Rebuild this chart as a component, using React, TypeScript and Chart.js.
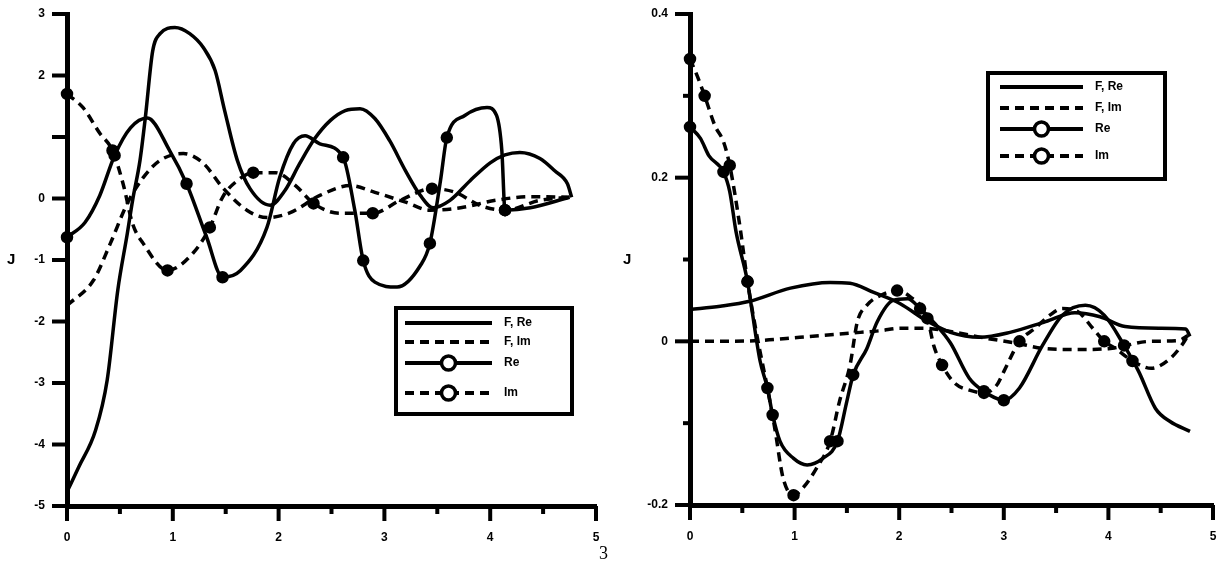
import React, { useEffect, useRef } from "react";
import { Chart, registerables } from "chart.js";

Chart.register(...registerables);

// legend texts (same four series in both panels)
const seriesLabels = ["F, Re", "F, Im", "Re", "Im"];

// ---- left panel ----
const leftXTicks = [0, 1, 2, 3, 4, 5];
const leftYTicks = [3, 2, 1, 0, -1, -2, -3, -4, -5];

const leftSolidX = [0, 0.11, 0.27, 0.38, 0.48, 0.57, 0.62, 0.69, 0.74, 0.81, 0.88, 1.02, 1.16, 1.29, 1.4, 1.49, 1.61, 1.73, 1.92, 2.06, 2.2, 2.34, 2.49, 2.63, 2.77, 2.91, 3.05, 3.2, 3.34, 3.46, 3.62, 3.81, 4.0, 4.14, 4.28, 4.47, 4.61, 4.73, 4.77];
const leftSolidY = [-4.77, -4.37, -3.77, -2.95, -1.49, -0.57, -0.03, 0.62, 1.31, 2.4, 2.68, 2.78, 2.68, 2.45, 2.08, 1.43, 0.62, 0.16, -0.11, 0.13, 0.57, 0.97, 1.27, 1.43, 1.46, 1.3, 0.94, 0.45, 0.05, -0.15, -0.03, 0.29, 0.58, 0.71, 0.75, 0.65, 0.45, 0.24, 0.02];

const leftDashX = [0, 0.25, 0.41, 0.57, 0.72, 0.88, 1.1, 1.29, 1.47, 1.7, 1.89, 2.11, 2.39, 2.68, 2.91, 3.2, 3.43, 3.72, 4.05, 4.38, 4.75];
const leftDashY = [-1.74, -1.33, -0.73, -0.08, 0.34, 0.62, 0.73, 0.57, 0.18, -0.19, -0.31, -0.23, 0.05, 0.21, 0.1, -0.06, -0.19, -0.15, -0.03, 0.03, 0.02];

const leftSolidMarkX = [0, 0.17, 0.31, 0.45, 0.6, 0.76, 0.97, 1.13, 1.32, 1.47, 1.64, 1.89, 2.01, 2.14, 2.25, 2.39, 2.61, 2.72, 2.8, 2.91, 3.12, 3.34, 3.43, 3.53, 3.59, 3.76, 3.97, 4.06, 4.11, 4.14, 4.38, 4.75];
const leftSolidMarkY = [-0.63, -0.39, 0.05, 0.7, 1.15, 1.31, 0.78, 0.24, -0.63, -1.28, -1.17, -0.47, 0.34, 0.89, 1.02, 0.89, 0.67, -0.19, -1.01, -1.36, -1.44, -1.09, -0.73, 0.29, 0.99, 1.35, 1.48, 1.35, 0.78, -0.19, -0.15, 0.02];
const leftSolidMarkAt = [0, 3, 7, 9, 16, 18, 22, 24, 29];

const leftDashMarkX = [0, 0.15, 0.31, 0.43, 0.53, 0.62, 0.72, 0.95, 1.19, 1.35, 1.47, 1.61, 1.76, 1.97, 2.16, 2.33, 2.58, 2.89, 3.15, 3.45, 3.67, 3.9, 4.14, 4.47, 4.75];
const leftDashMarkY = [1.7, 1.48, 1.06, 0.78, 0.24, -0.41, -0.73, -1.17, -0.89, -0.47, 0.02, 0.29, 0.42, 0.42, 0.21, -0.08, -0.24, -0.24, -0.03, 0.16, 0.1, -0.11, -0.19, -0.03, 0.02];
const leftDashMarkAt = [0, 3, 7, 9, 12, 15, 17, 19, 22];

// ---- right panel ----
const rightXTicks = [0, 1, 2, 3, 4, 5];
const rightYTicks = [0.4, 0.2, 0, -0.2];

const rightSolidX = [0, 0.29, 0.57, 0.96, 1.34, 1.53, 1.75, 2.01, 2.25, 2.49, 2.77, 3.06, 3.4, 3.68, 3.92, 4.16, 4.49, 4.74, 4.78];
const rightSolidY = [0.039, 0.043, 0.049, 0.065, 0.072, 0.071, 0.06, 0.046, 0.026, 0.011, 0.005, 0.011, 0.024, 0.035, 0.03, 0.018, 0.016, 0.015, 0.006];

const rightDashX = [0, 0.29, 0.67, 1.05, 1.53, 1.82, 2.01, 2.25, 2.49, 2.82, 3.11, 3.4, 3.68, 4.0, 4.4, 4.67, 4.76];
const rightDashY = [0, 0, 0.001, 0.005, 0.01, 0.013, 0.016, 0.016, 0.012, 0.004, -0.002, -0.009, -0.01, -0.009, 0, 0.001, 0.007];

const rightSolidMarkX = [0, 0.1, 0.18, 0.32, 0.38, 0.44, 0.55, 0.59, 0.67, 0.74, 0.79, 0.86, 0.99, 1.12, 1.27, 1.41, 1.5, 1.56, 1.69, 1.79, 1.94, 2.08, 2.2, 2.34, 2.49, 2.67, 2.81, 3.0, 3.15, 3.37, 3.56, 3.78, 3.96, 4.15, 4.29, 4.45, 4.59, 4.78];
const rightSolidMarkY = [0.262, 0.248, 0.227, 0.207, 0.183, 0.134, 0.073, 0.04, -0.024, -0.057, -0.09, -0.122, -0.143, -0.151, -0.143, -0.122, -0.073, -0.041, -0.009, 0.024, 0.05, 0.052, 0.04, 0.022, -0.002, -0.045, -0.061, -0.072, -0.057, -0.005, 0.032, 0.044, 0.032, -0.005, -0.037, -0.082, -0.098, -0.11];
const rightSolidMarkAt = [0, 3, 6, 10, 15, 17, 22, 26, 27, 33];

const rightDashMarkX = [0, 0.07, 0.14, 0.24, 0.32, 0.38, 0.48, 0.55, 0.64, 0.74, 0.81, 0.89, 0.99, 1.08, 1.21, 1.34, 1.43, 1.53, 1.6, 1.69, 1.82, 1.98, 2.1, 2.27, 2.33, 2.41, 2.53, 2.68, 2.81, 2.93, 3.0, 3.15, 3.3, 3.44, 3.56, 3.7, 3.85, 3.96, 4.07, 4.23, 4.41, 4.59, 4.7, 4.76];
const rightDashMarkY = [0.345, 0.324, 0.3, 0.263, 0.244, 0.215, 0.138, 0.073, 0.007, -0.057, -0.106, -0.167, -0.188, -0.179, -0.155, -0.122, -0.073, -0.029, 0.024, 0.044, 0.056, 0.062, 0.055, 0.028, -0.005, -0.029, -0.051, -0.06, -0.063, -0.054, -0.037, 0, 0.016, 0.032, 0.04, 0.037, 0.016, 0, -0.009, -0.024, -0.033, -0.021, -0.005, 0.007];
const rightDashMarkAt = [0, 2, 5, 7, 9, 12, 15, 21, 23, 25, 28, 31, 37, 39];

const near = (v: number, step: number) => Math.abs(v / step - Math.round(v / step)) < 1e-6;

function series(label: string, xs: number[], ys: number[], dashed: boolean, marks?: number[]) {
  return {
    label,
    data: xs.map((x, i) => ({ x, y: ys[i] })),
    borderColor: "#000",
    borderWidth: 3.5,
    borderDash: dashed ? [9, 6] : [],
    pointRadius: marks ? xs.map((_, i) => (marks.includes(i) ? 4.5 : 0)) : 0,
    pointBackgroundColor: "#000",
    pointBorderColor: "#000",
    cubicInterpolationMode: "monotone",
    fill: false,
    clip: 10,
    marker: !!marks,
  };
}

// outward tick marks, long on majors, short on minors
const tickMarks = {
  id: "tickMarks",
  afterDraw(chart: any, _args: any, opts: any) {
    const { ctx, chartArea: ca } = chart;
    const xs = chart.scales.x;
    const ys = chart.scales.y;
    ctx.save();
    ctx.strokeStyle = "#000";
    ctx.lineWidth = 4;
    for (const t of xs.ticks) {
      const px = xs.getPixelForValue(t.value);
      const len = near(t.value, opts.xMajor) ? 15 : 8;
      ctx.beginPath();
      ctx.moveTo(px, ca.bottom);
      ctx.lineTo(px, ca.bottom + len);
      ctx.stroke();
    }
    for (const t of ys.ticks) {
      const py = ys.getPixelForValue(t.value);
      const len = near(t.value, opts.yMajor) ? 15 : 7;
      ctx.beginPath();
      ctx.moveTo(ca.left, py);
      ctx.lineTo(ca.left - len, py);
      ctx.stroke();
    }
    ctx.restore();
  },
};

// boxed legend drawn inside the plot
const boxLegend = {
  id: "boxLegend",
  afterDraw(chart: any, _args: any, o: any) {
    const { ctx } = chart;
    ctx.save();
    ctx.fillStyle = "#fff";
    ctx.strokeStyle = "#000";
    ctx.lineWidth = 4;
    ctx.fillRect(o.left, o.top, o.width, o.height);
    ctx.strokeRect(o.left, o.top, o.width, o.height);
    chart.data.datasets.forEach((ds: any, i: number) => {
      const y = o.rows[i];
      ctx.setLineDash(ds.borderDash);
      ctx.lineWidth = 4;
      ctx.beginPath();
      ctx.moveTo(o.lineFrom, y);
      ctx.lineTo(o.lineTo, y);
      ctx.stroke();
      ctx.setLineDash([]);
      if (ds.marker) {
        const cx = (o.lineFrom + o.lineTo) / 2;
        ctx.beginPath();
        ctx.arc(cx, y, 7, 0, Math.PI * 2);
        ctx.fillStyle = "#fff";
        ctx.fill();
        ctx.lineWidth = 3.5;
        ctx.stroke();
      }
      ctx.fillStyle = "#000";
      ctx.font = "bold 12px 'Liberation Sans'";
      ctx.textBaseline = "middle";
      ctx.fillText(ds.label, o.textX, y);
    });
    ctx.restore();
  },
};

interface PanelProps {
  left: number;
  width: number;
  height: number;
  axisLeft: number;
  padTop: number;
  padRight: number;
  axisBottom: number;
  datasets: any[];
  xTicks: number[];
  yTicks: number[];
  yStep: number;
  yMajor: number;
  yLabel: (v: number) => string;
  legend: any;
}

const Panel: React.FC<PanelProps> = (p) => {
  const canvasRef = useRef<HTMLCanvasElement>(null);

  useEffect(() => {
    const font = { family: "'Liberation Sans'", size: 12, weight: "bold" as const };
    const chart = new Chart(canvasRef.current as HTMLCanvasElement, {
      type: "line",
      data: { datasets: p.datasets },
      options: {
        animation: false,
        responsive: false,
        events: [],
        layout: { padding: { top: p.padTop, right: p.padRight, left: 0, bottom: 0 } },
        plugins: {
          legend: { display: false },
          tooltip: { enabled: false },
          tickMarks: { xMajor: 1, yMajor: p.yMajor },
          boxLegend: p.legend,
        } as any,
        scales: {
          x: {
            type: "linear",
            min: p.xTicks[0],
            max: p.xTicks[p.xTicks.length - 1],
            grid: { display: false, drawTicks: false },
            border: { display: true, color: "#000", width: 5 },
            ticks: {
              stepSize: 0.5,
              autoSkip: false,
              maxRotation: 0,
              padding: 24,
              color: "#000",
              font,
              callback: (v: any) => (p.xTicks.includes(Number(v)) ? String(v) : ""),
            },
            afterFit: (s: any) => {
              s.height = p.height - p.axisBottom;
              s.paddingLeft = 0;
              s.paddingRight = 0;
            },
          },
          y: {
            type: "linear",
            min: p.yTicks[p.yTicks.length - 1],
            max: p.yTicks[0],
            grid: { display: false, drawTicks: false },
            border: { display: true, color: "#000", width: 5 },
            ticks: {
              stepSize: p.yStep,
              autoSkip: false,
              padding: 22,
              color: "#000",
              font,
              callback: (v: any) => p.yLabel(Number(v)),
            },
            afterFit: (s: any) => {
              s.width = p.axisLeft;
              s.paddingTop = 0;
              s.paddingBottom = 0;
            },
          },
        },
      } as any,
      plugins: [tickMarks, boxLegend],
    });
    return () => {
      chart.destroy();
    };
  }, [p]);

  return (
    <canvas
      ref={canvasRef}
      width={p.width}
      height={p.height}
      style={{ position: "absolute", left: p.left, top: 0 }}
    />
  );
};

const leftProps: PanelProps = {
  left: 0,
  width: 612,
  height: 560,
  axisLeft: 67,
  padTop: 14,
  padRight: 16,
  axisBottom: 506,
  datasets: [
    series(seriesLabels[0], leftSolidX, leftSolidY, false),
    series(seriesLabels[1], leftDashX, leftDashY, true),
    series(seriesLabels[2], leftSolidMarkX, leftSolidMarkY, false, leftSolidMarkAt),
    series(seriesLabels[3], leftDashMarkX, leftDashMarkY, true, leftDashMarkAt),
  ],
  xTicks: leftXTicks,
  yTicks: leftYTicks,
  yStep: 1,
  yMajor: 1,
  yLabel: (v) => (v === 1 ? "" : String(v)),
  legend: { left: 396, top: 308, width: 176, height: 106, rows: [323, 342, 363, 393], lineFrom: 405, lineTo: 492, textX: 504 },
};

const rightProps: PanelProps = {
  left: 612,
  width: 613,
  height: 560,
  axisLeft: 78,
  padTop: 14,
  padRight: 12,
  axisBottom: 505,
  datasets: [
    series(seriesLabels[0], rightSolidX, rightSolidY, false),
    series(seriesLabels[1], rightDashX, rightDashY, true),
    series(seriesLabels[2], rightSolidMarkX, rightSolidMarkY, false, rightSolidMarkAt),
    series(seriesLabels[3], rightDashMarkX, rightDashMarkY, true, rightDashMarkAt),
  ],
  xTicks: rightXTicks,
  yTicks: rightYTicks,
  yStep: 0.1,
  yMajor: 0.2,
  yLabel: (v) => (near(v, 0.2) ? String(Number(v.toFixed(2))) : ""),
  legend: { left: 376, top: 73, width: 177, height: 106, rows: [87, 108, 129, 156], lineFrom: 388, lineTo: 471, textX: 483 },
};

const App: React.FC = () => {
  const title: React.CSSProperties = {
    position: "absolute",
    font: "bold 15px 'Liberation Sans'",
    color: "#000",
  };
  return (
    <div style={{ position: "absolute", left: 0, top: 0, width: 1225, height: 569, background: "#fff" }}>
      <Panel {...leftProps} />
      <Panel {...rightProps} />
      <div style={{ ...title, left: 7, top: 250 }}>J</div>
      <div style={{ ...title, left: 623, top: 250 }}>J</div>
      <div style={{ position: "absolute", left: 599, top: 543, font: "18px 'Liberation Serif'" }}>3</div>
    </div>
  );
};

export default App;
